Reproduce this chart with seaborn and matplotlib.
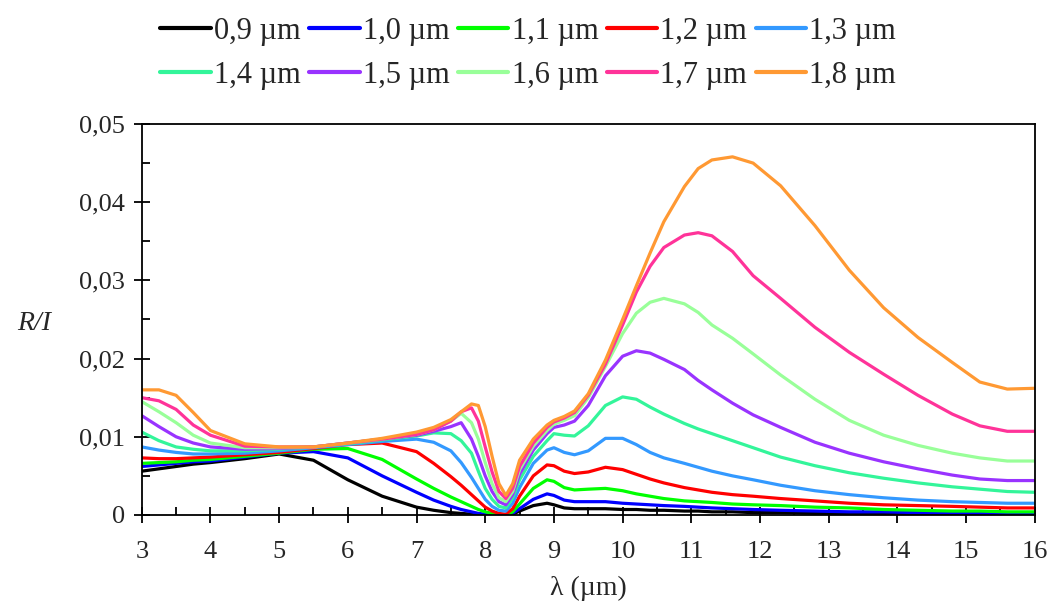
import numpy as np
import pandas as pd
import matplotlib
matplotlib.use("Agg")
import matplotlib.pyplot as plt
import seaborn as sns
from matplotlib.ticker import MultipleLocator, FuncFormatter

wavelength = [3.0, 3.25, 3.5, 3.75, 4.0, 4.5, 5.0, 5.5, 6.0, 6.5, 7.0, 7.25, 7.5, 7.65, 7.8, 7.9,
              8.0, 8.1, 8.2, 8.3, 8.4, 8.5, 8.7, 8.9, 9.0, 9.15, 9.3, 9.5, 9.75, 10.0, 10.2, 10.4,
              10.6, 10.9, 11.1, 11.3, 11.6, 11.9, 12.3, 12.8, 13.3, 13.8, 14.3, 14.8, 15.2, 15.6, 16.0]

labels = ["0,9 µm", "1,0 µm", "1,1 µm", "1,2 µm", "1,3 µm",
          "1,4 µm", "1,5 µm", "1,6 µm", "1,7 µm", "1,8 µm"]

r_09 = [.0056, .0059, .0062, .0065, .0067, .0072, .0078, .0070, .0045, .0024, .0010, .0006, .0003, .0002, .0001, .0001,
        .0000, .0000, .0000, .0000, .0001, .0005, .0012, .0015, .0013, .0009, .0008, .0008, .0008, .0007, .0007, .0006,
        .0006, .0005, .0005, .0004, .0004, .0003, .0003, .0002, .0002, .0002, .0001, .0001, .0001, .0001, .0001]
r_10 = [.0062, .0064, .0066, .0068, .0069, .0074, .0079, .0081, .0073, .0050, .0029, .0019, .0011, .0007, .0004, .0002,
        .0001, .0000, .0000, .0000, .0002, .0008, .0020, .0027, .0025, .0019, .0017, .0017, .0017, .0015, .0014, .0013,
        .0012, .0011, .0010, .0009, .0008, .0007, .0006, .0005, .0004, .0004, .0003, .0003, .0002, .0002, .0002]
r_11 = [.0066, .0067, .0068, .0070, .0071, .0075, .0079, .0084, .0085, .0071, .0046, .0034, .0023, .0017, .0011, .0007,
        .0004, .0002, .0000, .0000, .0004, .0014, .0034, .0045, .0043, .0035, .0032, .0033, .0034, .0031, .0027, .0024,
        .0021, .0018, .0017, .0016, .0014, .0013, .0012, .0010, .0009, .0007, .0006, .0005, .0005, .0004, .0004]
r_12 = [.0073, .0072, .0072, .0073, .0074, .0077, .0080, .0085, .0090, .0092, .0081, .0066, .0049, .0038, .0026, .0018,
        .0010, .0005, .0002, .0001, .0008, .0024, .0050, .0064, .0063, .0056, .0053, .0055, .0061, .0058, .0052, .0046,
        .0041, .0035, .0032, .0029, .0026, .0024, .0021, .0018, .0015, .0013, .0012, .0011, .0010, .0009, .0009]
r_13 = [.0087, .0083, .0080, .0078, .0078, .0079, .0082, .0086, .0090, .0094, .0097, .0093, .0082, .0067, .0048, .0034,
        .0020, .0011, .0006, .0005, .0015, .0035, .0066, .0083, .0086, .0080, .0077, .0082, .0098, .0098, .0090, .0080,
        .0073, .0066, .0061, .0056, .0050, .0045, .0038, .0031, .0026, .0022, .0019, .0017, .0016, .0015, .0015]
r_14 = [.0106, .0095, .0087, .0084, .0082, .0082, .0084, .0087, .0091, .0096, .0101, .0105, .0104, .0095, .0079, .0056,
        .0034, .0020, .0011, .0009, .0022, .0045, .0075, .0095, .0104, .0102, .0101, .0114, .0140, .0151, .0148, .0138,
        .0129, .0117, .0110, .0104, .0095, .0086, .0074, .0063, .0054, .0047, .0041, .0036, .0033, .0030, .0029]
r_15 = [.0127, .0113, .0100, .0092, .0087, .0084, .0085, .0087, .0092, .0097, .0102, .0107, .0113, .0118, .0097, .0075,
        .0050, .0030, .0017, .0013, .0026, .0052, .0083, .0104, .0112, .0115, .0120, .0140, .0178, .0203, .0210, .0207,
        .0199, .0186, .0172, .0160, .0143, .0128, .0112, .0093, .0079, .0068, .0059, .0051, .0046, .0044, .0044]
r_16 = [.0145, .0132, .0118, .0102, .0092, .0086, .0086, .0087, .0092, .0097, .0103, .0109, .0120, .0130, .0118, .0097,
        .0067, .0040, .0022, .0017, .0030, .0058, .0088, .0108, .0116, .0121, .0127, .0150, .0190, .0232, .0258, .0272,
        .0277, .0270, .0259, .0243, .0226, .0206, .0179, .0148, .0121, .0102, .0089, .0079, .0073, .0069, .0069]
r_17 = [.0150, .0146, .0135, .0115, .0102, .0088, .0087, .0087, .0092, .0097, .0103, .0109, .0120, .0132, .0137, .0120,
        .0087, .0055, .0030, .0021, .0034, .0062, .0092, .0112, .0119, .0124, .0131, .0153, .0193, .0243, .0285, .0318,
        .0342, .0358, .0361, .0357, .0337, .0306, .0277, .0240, .0208, .0180, .0153, .0129, .0114, .0107, .0107]
r_18 = [.0160, .0160, .0153, .0131, .0108, .0091, .0087, .0087, .0092, .0098, .0106, .0112, .0122, .0132, .0142, .0140,
        .0113, .0075, .0040, .0025, .0040, .0070, .0097, .0115, .0121, .0126, .0133, .0155, .0198, .0250, .0293, .0335,
        .0375, .0420, .0443, .0454, .0458, .0450, .0421, .0370, .0313, .0265, .0227, .0195, .0170, .0161, .0162]

colors = ["#000000", "#0000FF", "#00FF00", "#FF0000", "#3399FF",
          "#33F59A", "#9933FF", "#99FF99", "#FF3399", "#FF9933"]

series = [r_09, r_10, r_11, r_12, r_13, r_14, r_15, r_16, r_17, r_18]
frames = []
for lab, vals in zip(labels, series):
    frames.append(pd.DataFrame({"x": wavelength, "y": vals, "s": lab}))
df = pd.concat(frames, ignore_index=True)

sns.set_style("ticks")
plt.rcParams["font.family"] = ["Liberation Serif", "DejaVu Serif"]
plt.rcParams["lines.solid_joinstyle"] = "round"

fig = plt.figure(figsize=(10.5, 6.09), dpi=100)
ax = fig.add_axes([0.135, 0.1544, 0.8505, 0.642])

sns.lineplot(data=df, x="x", y="y", hue="s", hue_order=labels, palette=colors,
             linewidth=2.3, ax=ax, legend=True, sort=False)

ax.set_xlim(3, 16)
ax.set_ylim(0, 0.05)
ax.xaxis.set_major_locator(MultipleLocator(1))
ax.xaxis.set_minor_locator(MultipleLocator(0.5))
ax.yaxis.set_major_locator(MultipleLocator(0.01))
ax.yaxis.set_minor_locator(MultipleLocator(0.005))
ax.yaxis.set_major_formatter(FuncFormatter(lambda v, p: "0" if abs(v) < 1e-12 else f"{v:.2f}".replace(".", ",")))

for sp in ax.spines.values():
    sp.set_visible(True)
    sp.set_color("black")
    sp.set_linewidth(1.3)

ax.tick_params(axis="both", which="major", labelsize=19, direction="inout", length=12, width=1.3, color="black")
ax.tick_params(axis="both", which="minor", direction="in", length=6, width=1.3, color="black")
ax.tick_params(axis="x", which="major", pad=13)
ax.tick_params(axis="y", which="major", pad=6)

ax.set_xlabel("λ (µm)", fontsize=20, labelpad=9)
ax.set_ylabel("R/I", fontsize=20, style="italic", rotation=0, va="center")
ax.yaxis.set_label_coords(-0.12, 0.49)

handles, labs = ax.get_legend_handles_labels()
order = [0, 5, 1, 6, 2, 7, 3, 8, 4, 9]
ax.legend([handles[i] for i in order], [labs[i] for i in order], ncol=5,
          loc="upper center", bbox_to_anchor=(0.503, 1.0),
          bbox_transform=fig.transFigure, frameon=False, fontsize=22,
          handlelength=1.65, handletextpad=0.1, columnspacing=0.28, labelspacing=0.5,
          borderaxespad=0.15)
for l in ax.get_legend().get_lines():
    l.set_linewidth(3)

fig.savefig("out.png", dpi=100, facecolor="white")
